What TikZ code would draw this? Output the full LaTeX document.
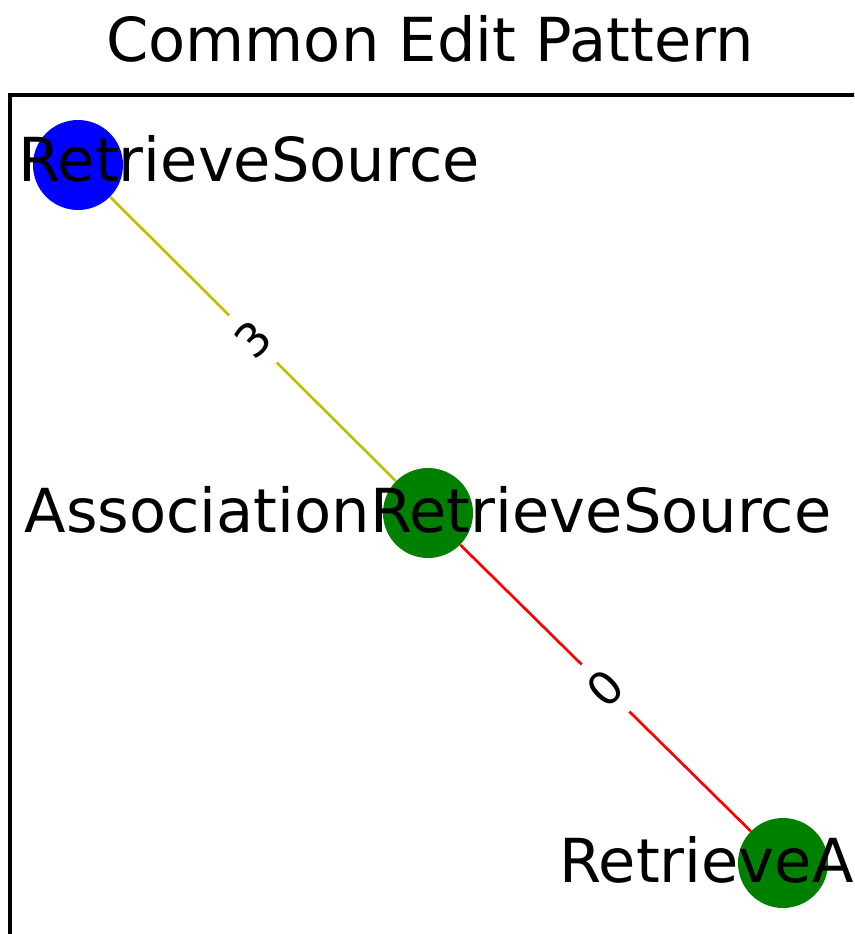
\documentclass[tikz,border=0pt]{standalone}
\usepackage{fontspec}
\setmainfont{DejaVu Sans}
\begin{document}
\begin{tikzpicture}[x=0.75pt,y=0.75pt,yscale=-1,xscale=1,
  vertex/.style={circle,inner sep=0pt,minimum size=67.5pt,draw=none},
  vtext/.style={inner sep=0pt,anchor=base,font=\fontsize{45.5}{50}\selectfont},
  edgelbl/.style={fill=white,text=black,inner sep=12pt,sloped,font=\fontsize{34.5}{40}\selectfont}
  ]
\useasboundingbox (0,0) rectangle (854,934);
\clip (0,0) rectangle (854,934);

% Title
\node [vtext] (title) at (430,62) {Common Edit Pattern};
%Shape: Frame
\draw [line width=3pt] (10,95) rectangle (900,1000);

%Shape: Nodes
\node [vertex,fill={rgb,255:red,0;green,0;blue,255}] (rs) at (78,165) {};
\node [vertex,fill={rgb,255:red,0;green,128;blue,0}] (ars) at (428,513) {};
\node [vertex,fill={rgb,255:red,0;green,128;blue,0}] (ra) at (783,863) {};

%Shape: Edges
\draw [color={rgb,255:red,191;green,191;blue,0},line width=2pt] (rs) -- node [edgelbl] (w3) {3} (ars);
\draw [color={rgb,255:red,255;green,0;blue,0},line width=2pt] (ars) -- node [edgelbl] (w0) {0} (ra);

% Text Node
\node [vtext] (rs-txt) at (249,182) {RetrieveSource};
% Text Node
\node [vtext] (ars-txt) at (428,532) {AssociationRetrieveSource};
% Text Node
\node [vtext,anchor=base west] (ra-txt) at (559,882) {RetrieveA};

\end{tikzpicture}
\end{document}
